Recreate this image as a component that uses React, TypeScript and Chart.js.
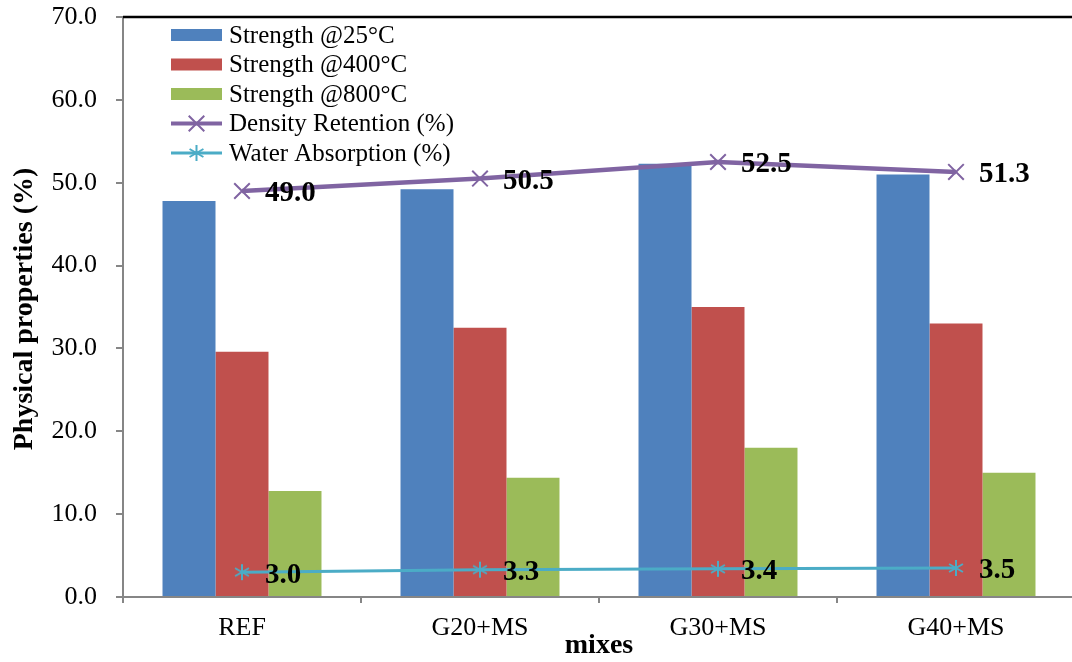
import React, { useEffect, useRef } from "react";
import { Chart, registerables } from "chart.js";

Chart.register(...registerables);

const categories = ["REF", "G20+MS", "G30+MS", "G40+MS"];
const strength25 = [47.8, 49.2, 52.3, 51.0];
const strength400 = [29.6, 32.5, 35.0, 33.0];
const strength800 = [12.8, 14.4, 18.0, 15.0];
const densityRetention = [49.0, 50.5, 52.5, 51.3];
const waterAbsorption = [3.0, 3.3, 3.4, 3.5];
const yTicks = [0, 10, 20, 30, 40, 50, 60, 70];

const FONT = "'Liberation Serif', 'Times New Roman', serif";
const BLUE = "#4F81BD";
const RED = "#C0504D";
const GREEN = "#9BBB59";
const PURPLE = "#8064A2";
const TEAL = "#4BACC6";

function drawMarker(ctx: CanvasRenderingContext2D, style: string, x: number, y: number, r: number, color: string, w: number) {
  ctx.save();
  ctx.strokeStyle = color;
  ctx.lineWidth = w;
  ctx.beginPath();
  if (style === "star") {
    for (let k = 0; k < 3; k++) {
      const a = Math.PI / 2 + (k * Math.PI) / 3;
      ctx.moveTo(x - r * Math.cos(a), y - r * Math.sin(a));
      ctx.lineTo(x + r * Math.cos(a), y + r * Math.sin(a));
    }
  } else {
    const d = r * Math.SQRT1_2;
    ctx.moveTo(x - d, y - d);
    ctx.lineTo(x + d, y + d);
    ctx.moveTo(x - d, y + d);
    ctx.lineTo(x + d, y - d);
  }
  ctx.stroke();
  ctx.restore();
}

function makeStar(): HTMLCanvasElement {
  const c = document.createElement("canvas");
  c.width = 20;
  c.height = 20;
  const ctx = c.getContext("2d")!;
  drawMarker(ctx, "star", 10, 10, 8, TEAL, 2);
  return c;
}

const overlayPlugin = {
  id: "overlay",
  afterDraw(chart: any) {
    const ctx: CanvasRenderingContext2D = chart.ctx;
    const area = chart.chartArea;
    ctx.save();
    // top border
    ctx.strokeStyle = "#000";
    ctx.lineWidth = 2.5;
    ctx.beginPath();
    ctx.moveTo(area.left, area.top);
    ctx.lineTo(chart.width, area.top);
    ctx.stroke();

    // data labels for line datasets
    ctx.fillStyle = "#000";
    ctx.font = `bold 29px ${FONT}`;
    ctx.textAlign = "left";
    ctx.textBaseline = "middle";
    [3, 4].forEach((di) => {
      const meta = chart.getDatasetMeta(di);
      const data = chart.data.datasets[di].data as number[];
      meta.data.forEach((pt: any, i: number) => {
        ctx.fillText(data[i].toFixed(1), pt.x + 23, pt.y + 3);
      });
    });

    // legend
    const items = [
      { label: "Strength @25°C", color: BLUE, kind: "box" },
      { label: "Strength @400°C", color: RED, kind: "box" },
      { label: "Strength @800°C", color: GREEN, kind: "box" },
      { label: "Density Retention (%)", color: PURPLE, kind: "crossRot" },
      { label: "Water Absorption (%)", color: TEAL, kind: "star" },
    ];
    const x0 = 171;
    const x1 = 222;
    ctx.font = `25px ${FONT}`;
    items.forEach((it, i) => {
      const y = 35 + i * 29.5;
      if (it.kind === "box") {
        ctx.fillStyle = it.color;
        ctx.fillRect(x0, y - 6, x1 - x0, 12);
      } else {
        ctx.strokeStyle = it.color;
        ctx.lineWidth = it.kind === "crossRot" ? 4 : 3;
        ctx.beginPath();
        ctx.moveTo(x0, y);
        ctx.lineTo(x1, y);
        ctx.stroke();
        drawMarker(ctx, it.kind, (x0 + x1) / 2, y, it.kind === "star" ? 8 : 11, it.color, 2);
      }
      ctx.fillStyle = "#000";
      ctx.textAlign = "left";
      ctx.textBaseline = "middle";
      ctx.fillText(it.label, 229, y + 1);
    });

    // axis titles
    ctx.font = `bold 28px ${FONT}`;
    ctx.fillStyle = "#000";
    ctx.textAlign = "center";
    ctx.textBaseline = "middle";
    ctx.fillText("mixes", (area.left + area.right) / 2, 646);
    ctx.save();
    ctx.translate(25, 309);
    ctx.rotate(-Math.PI / 2);
    ctx.fillText("Physical properties (%)", 0, 0);
    ctx.restore();
    ctx.restore();
  },
};

export default function App() {
  const ref = useRef<HTMLCanvasElement | null>(null);
  useEffect(() => {
    if (!ref.current) return;
    Chart.defaults.font.family = FONT;
    const star = makeStar();
    const chart = new Chart(ref.current, {
      type: "bar",
      data: {
        labels: categories,
        datasets: [
          { type: "bar", label: "Strength @25°C", data: strength25, backgroundColor: BLUE, order: 2 },
          { type: "bar", label: "Strength @400°C", data: strength400, backgroundColor: RED, order: 2 },
          { type: "bar", label: "Strength @800°C", data: strength800, backgroundColor: GREEN, order: 2 },
          {
            type: "line",
            label: "Density Retention (%)",
            data: densityRetention,
            borderColor: PURPLE,
            backgroundColor: PURPLE,
            borderWidth: 4.5,
            pointStyle: "crossRot",
            pointRadius: 11,
            pointBorderWidth: 2,
            pointBorderColor: PURPLE,
            tension: 0,
            order: 0,
          } as any,
          {
            type: "line",
            label: "Water Absorption (%)",
            data: waterAbsorption,
            borderColor: TEAL,
            backgroundColor: TEAL,
            borderWidth: 3,
            pointStyle: star,
            pointRadius: 8,
            tension: 0,
            order: 0,
          } as any,
        ],
      },
      options: {
        responsive: false,
        animation: false,
        layout: { autoPadding: false, padding: { top: 17, right: 5, left: 0, bottom: 0 } } as any,
        datasets: { bar: { categoryPercentage: 0.668, barPercentage: 1.0 } } as any,
        plugins: { legend: { display: false }, tooltip: { enabled: false }, title: { display: false } },
        scales: {
          x: {
            offset: true,
            grid: { display: true, drawOnChartArea: false, drawTicks: true, tickLength: 6, color: "#868686", offset: true, lineWidth: 2 },
            border: { display: true, color: "#868686", width: 2 },
            ticks: { color: "#000", font: { size: 26, family: FONT }, padding: 10, maxRotation: 0 },
            afterFit: (s: any) => {
              s.height = 65;
              s.paddingLeft = 0;
              s.paddingRight = 0;
            },
          },
          y: {
            min: 0,
            max: 70,
            afterBuildTicks: (s: any) => { s.ticks = yTicks.map((v) => ({ value: v })); },
            grid: { display: true, drawOnChartArea: false, drawTicks: true, tickLength: 7, color: "#868686", lineWidth: 2 },
            border: { display: true, color: "#868686", width: 2 },
            ticks: { color: "#000", font: { size: 26, family: FONT }, padding: 19, callback: (v: any) => Number(v).toFixed(1) },
            afterFit: (s: any) => {
              s.width = 123;
              s.paddingTop = 0;
              s.paddingBottom = 0;
            },
          },
        },
      },
      plugins: [overlayPlugin],
    });
    return () => chart.destroy();
  }, []);
  return (
    <div style={{ position: "absolute", left: 0, top: 0, width: 1072, height: 662, overflow: "hidden", background: "#fff" }}>
      <canvas ref={ref} width={1080} height={662} style={{ display: "block" }} />
    </div>
  );
}
